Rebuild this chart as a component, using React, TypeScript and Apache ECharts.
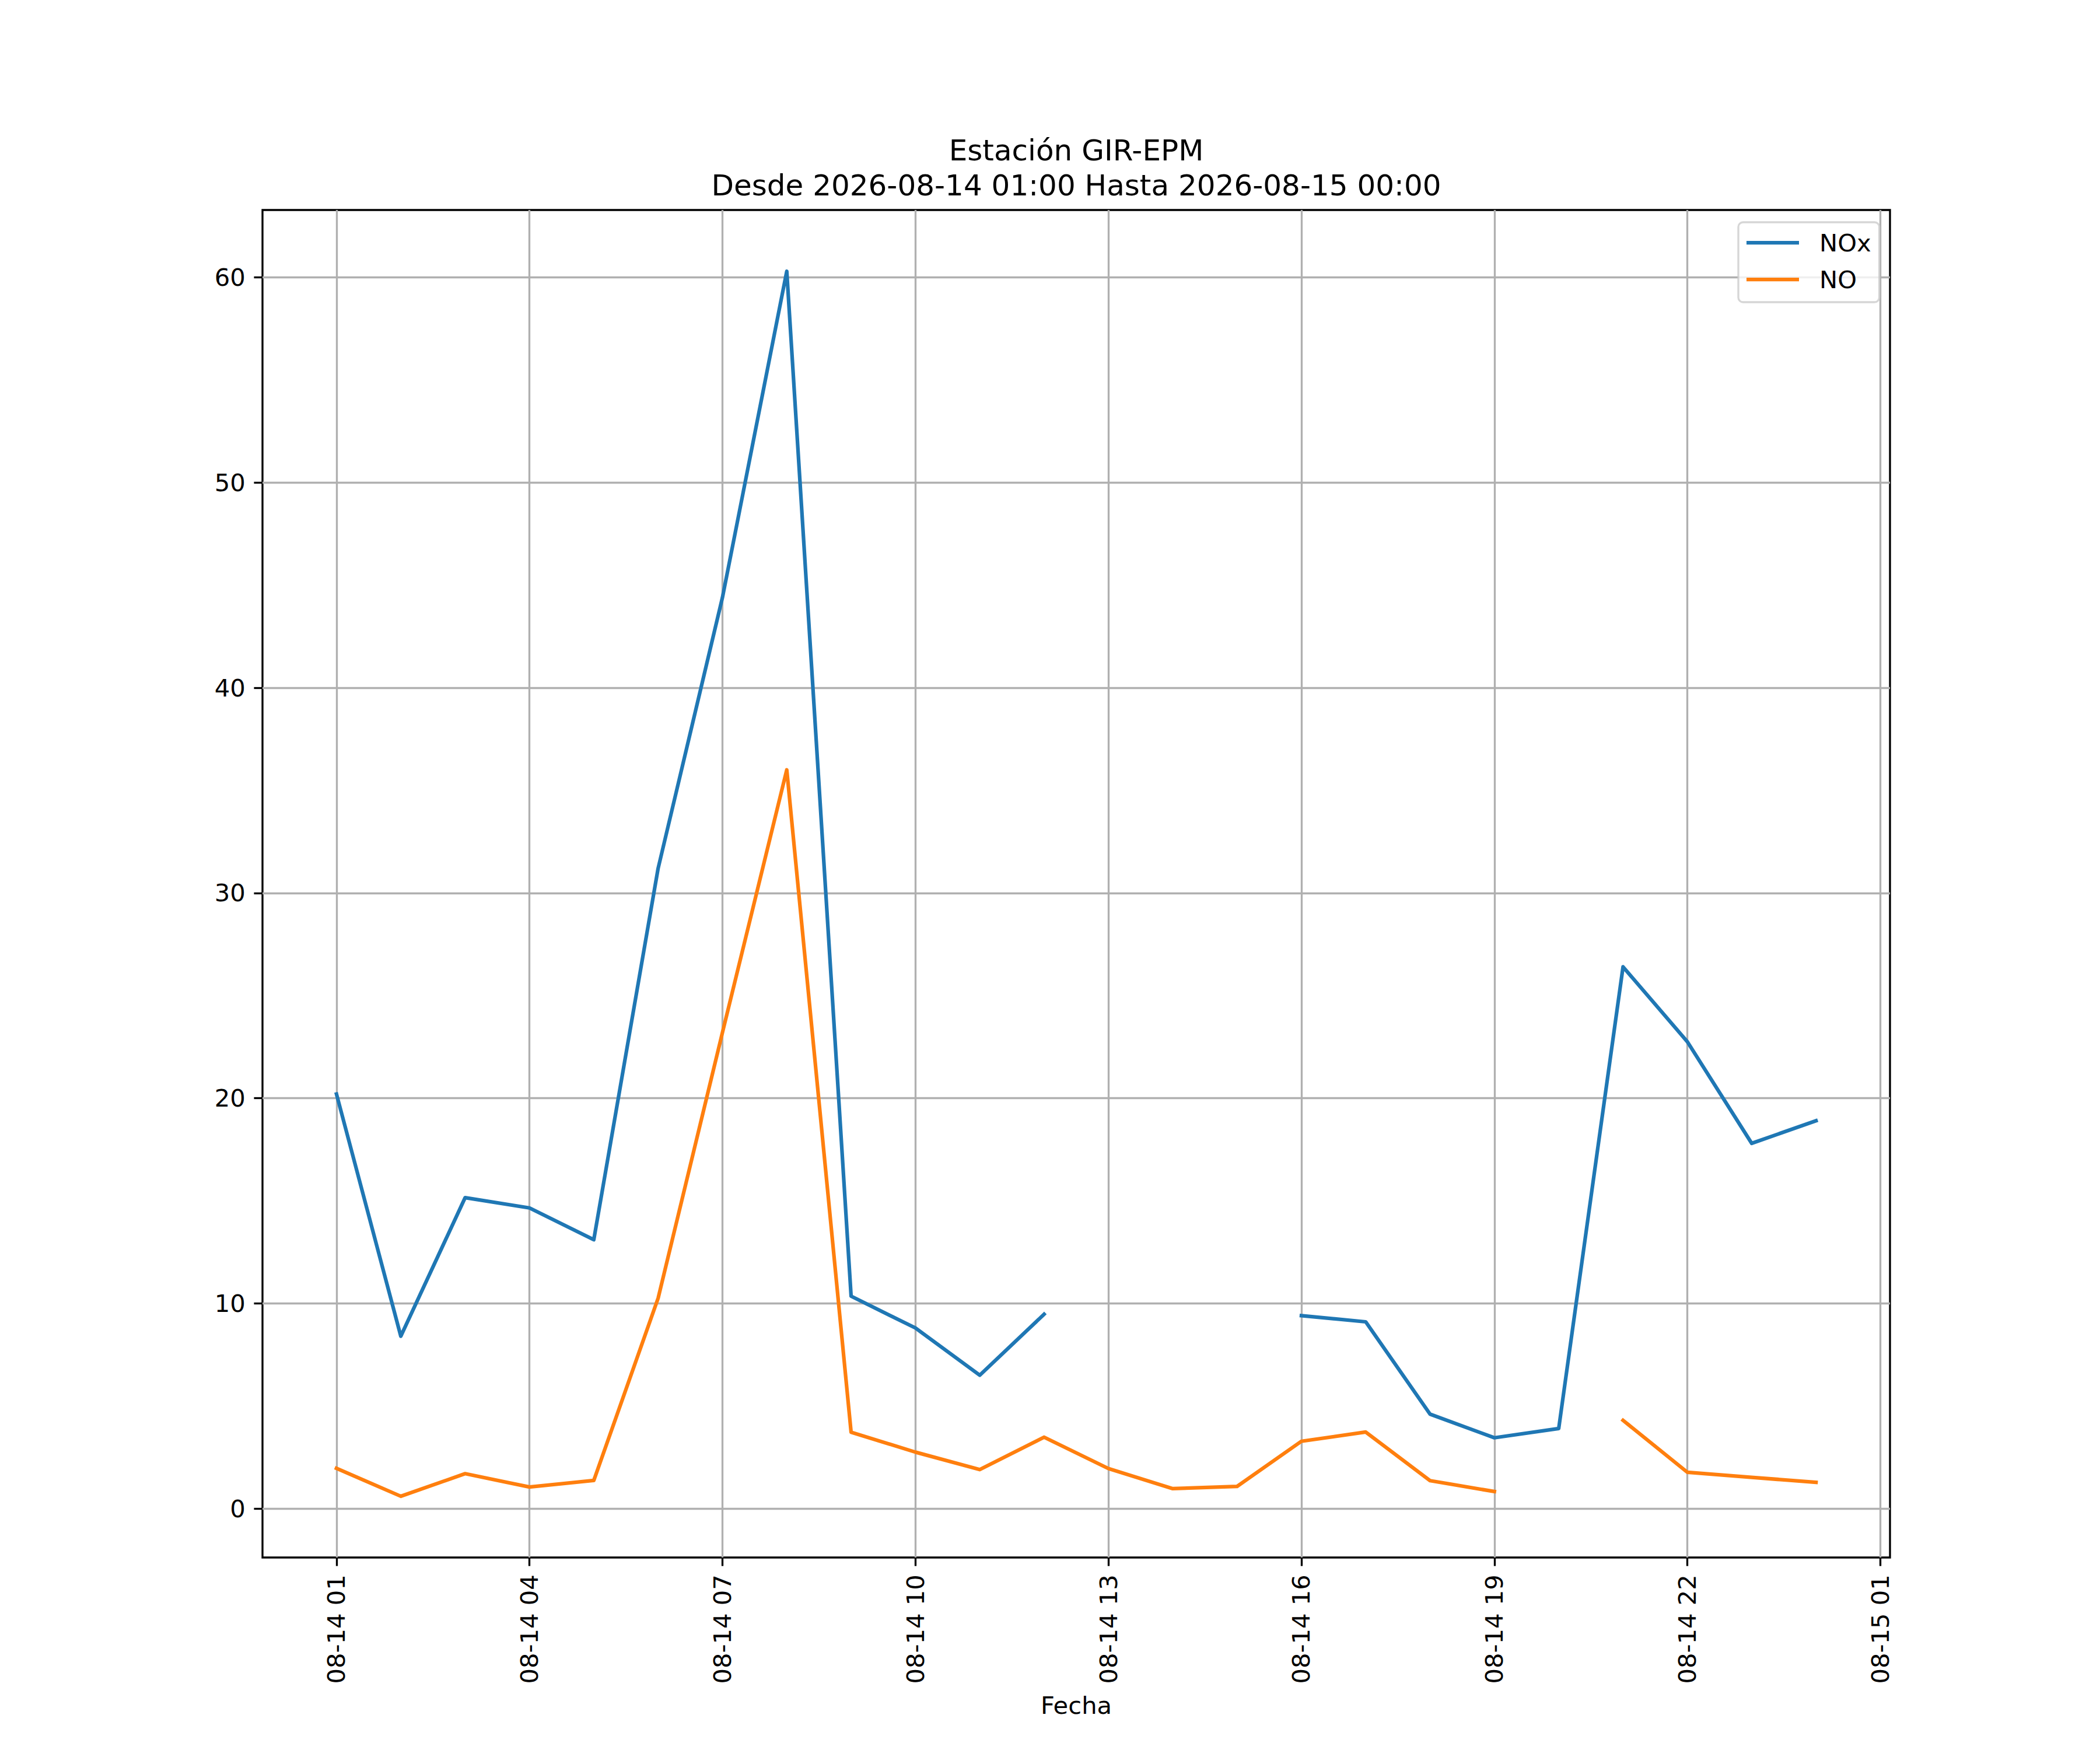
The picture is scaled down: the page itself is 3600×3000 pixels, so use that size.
import React, { useEffect, useRef } from "react";
import * as echarts from "echarts";

// ---- data ----
const times = [
  "2026-08-14 01:00", "2026-08-14 02:00", "2026-08-14 03:00", "2026-08-14 04:00",
  "2026-08-14 05:00", "2026-08-14 06:00", "2026-08-14 07:00", "2026-08-14 08:00",
  "2026-08-14 09:00", "2026-08-14 10:00", "2026-08-14 11:00", "2026-08-14 12:00",
  "2026-08-14 13:00", "2026-08-14 14:00", "2026-08-14 15:00", "2026-08-14 16:00",
  "2026-08-14 17:00", "2026-08-14 18:00", "2026-08-14 19:00", "2026-08-14 20:00",
  "2026-08-14 21:00", "2026-08-14 22:00", "2026-08-14 23:00", "2026-08-15 00:00",
];
const noxValues: (number | null)[] = [
  20.2, 8.4, 15.15, 14.65, 13.1, 31.2, 44.4, 60.3, 10.35, 8.8, 6.5, 9.47,
  null, null, null, 9.4, 9.1, 4.6, 3.45, 3.9, 26.4, 22.75, 17.8, 18.9,
];
const noValues: (number | null)[] = [
  1.96, 0.6, 1.7, 1.05, 1.37, 10.25, 23.2, 36.0, 3.72, 2.75, 1.9, 3.48,
  1.95, 0.97, 1.08, 3.28, 3.73, 1.36, 0.83, null, 4.3, 1.77, 1.52, 1.28,
];
const xTickTimes = [
  "2026-08-14 01:00", "2026-08-14 04:00", "2026-08-14 07:00", "2026-08-14 10:00",
  "2026-08-14 13:00", "2026-08-14 16:00", "2026-08-14 19:00", "2026-08-14 22:00",
  "2026-08-15 01:00",
];
const yTicks = [0, 10, 20, 30, 40, 50, 60];
const seriesNames = ["NOx", "NO"];
const titleLines = ["Estación GIR-EPM", "Desde 2026-08-14 01:00 Hasta 2026-08-15 00:00"];
const xAxisName = "Fecha";

// ---- helpers ----
const BASE = Date.UTC(2026, 7, 14, 0, 0);
const toHours = (s: string) =>
  (Date.parse(s.replace(" ", "T") + ":00Z") - BASE) / 3600000;
const xVals = times.map(toHours);
const xTickVals = xTickTimes.map(toHours);
const fmtHour = (h: number) => {
  const d = new Date(BASE + h * 3600000);
  const p = (n: number) => String(n).padStart(2, "0");
  return `${p(d.getUTCMonth() + 1)}-${p(d.getUTCDate())} ${p(d.getUTCHours())}`;
};

const allVals = [...noxValues, ...noValues].filter((v) => v != null) as number[];
const yDataMin = Math.min(...allVals);
const yDataMax = Math.max(...allVals);
const yPad = 0.05 * (yDataMax - yDataMin);
const xPad = 0.05 * (xVals[xVals.length - 1] - xVals[0]);

const FONT = "DejaVu Sans";
const PT = 300 / 72;

export default function App() {
  const ref = useRef<HTMLDivElement>(null);
  useEffect(() => {
    if (!ref.current) return;
    const chart = echarts.init(ref.current, undefined, { renderer: "svg" });
    const axisCommon = {
      axisLine: { show: false, onZero: false },
      axisTick: {
        show: true,
        inside: false,
        length: 3.5 * PT,
        lineStyle: { color: "#000", width: 0.8 * PT },
      },
      splitLine: { show: true, lineStyle: { color: "#b0b0b0", width: 0.8 * PT } },
    };
    chart.setOption({
      animation: false,
      backgroundColor: "#ffffff",
      textStyle: { fontFamily: FONT },
      title: {
        text: titleLines.join("\n"),
        left: 1845,
        top: 228,
        textAlign: "center",
        padding: 0,
        textStyle: {
          fontSize: 12 * PT,
          lineHeight: 60,
          fontWeight: "normal",
          fontFamily: FONT,
          color: "#000",
        },
      },
      grid: {
        left: 450,
        right: 360,
        top: 360,
        bottom: 330,
        show: true,
        borderColor: "#000",
        borderWidth: 0.8 * PT,
        backgroundColor: "transparent",
      },
      legend: {
        orient: "vertical",
        left: 2980,
        top: 381,
        padding: [14, 14, 18, 14],
        itemGap: 21,
        itemWidth: 90,
        itemHeight: 1.5 * PT,
        icon: "rect",
        backgroundColor: "rgba(255,255,255,0.8)",
        borderColor: "rgba(204,204,204,0.8)",
        borderWidth: 0.8 * PT,
        borderRadius: 8,
        textStyle: {
          fontSize: 10 * PT,
          lineHeight: 42,
          fontFamily: FONT,
          color: "#000",
          padding: [0, 0, 0, 30],
        },
        data: seriesNames,
      },
      xAxis: {
        type: "value",
        position: "bottom",
        min: xVals[0] - xPad,
        max: xVals[xVals.length - 1] + xPad,
        ...axisCommon,
        axisTick: { ...axisCommon.axisTick, customValues: xTickVals },
        axisLabel: {
          customValues: xTickVals,
          rotate: 90,
          margin: 7 * PT,
          fontSize: 10 * PT,
          fontFamily: FONT,
          color: "#000",
          formatter: (v: number) => fmtHour(v),
        },
      },
      yAxis: {
        type: "value",
        position: "left",
        min: yDataMin - yPad,
        max: yDataMax + yPad,
        ...axisCommon,
        axisTick: { ...axisCommon.axisTick, customValues: yTicks },
        axisLabel: {
          customValues: yTicks,
          margin: 7 * PT,
          fontSize: 10 * PT,
          fontFamily: FONT,
          color: "#000",
          formatter: (v: number) => String(v),
        },
      },
      graphic: [
        {
          type: "text",
          x: 1845,
          y: 2923,
          style: {
            text: xAxisName,
            fontSize: 10 * PT,
            fontFamily: FONT,
            fill: "#000",
            align: "center",
            verticalAlign: "middle",
          },
        },
      ],
      series: [
        {
          type: "line",
          name: seriesNames[0],
          data: xVals.map((x, i) => [x, noxValues[i]]),
          showSymbol: false,
          symbol: "none",
          connectNulls: false,
          color: "#1f77b4",
          lineStyle: { color: "#1f77b4", width: 1.5 * PT, cap: "square", join: "round" },
          emphasis: { disabled: true },
          z: 3,
        },
        {
          type: "line",
          name: seriesNames[1],
          data: xVals.map((x, i) => [x, noValues[i]]),
          showSymbol: false,
          symbol: "none",
          connectNulls: false,
          color: "#ff7f0e",
          lineStyle: { color: "#ff7f0e", width: 1.5 * PT, cap: "square", join: "round" },
          emphasis: { disabled: true },
          z: 3,
        },
      ],
    });
    return () => chart.dispose();
  }, []);
  return (
    <div
      ref={ref}
      style={{ position: "absolute", left: 0, top: 0, width: 3600, height: 3000, background: "#fff" }}
    />
  );
}
